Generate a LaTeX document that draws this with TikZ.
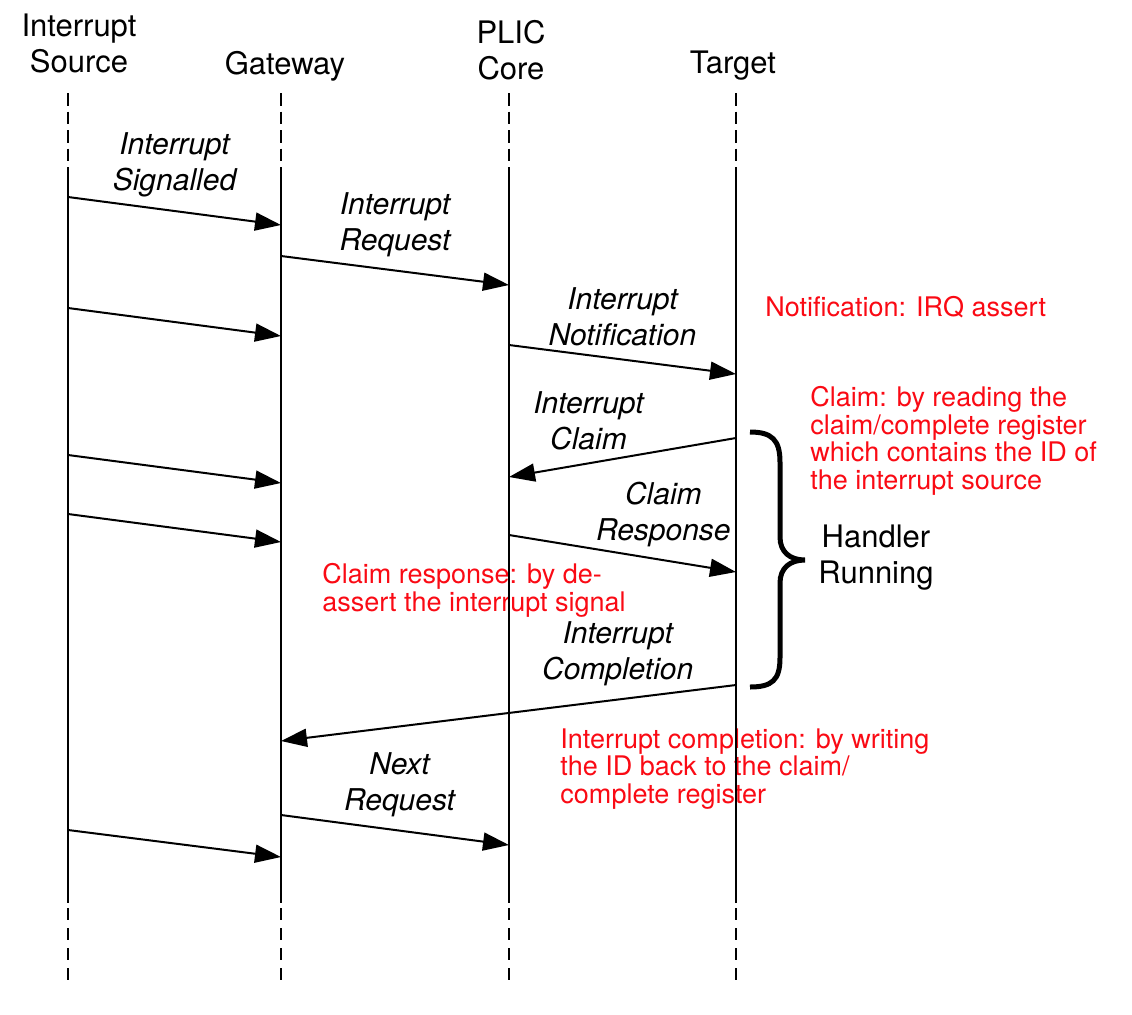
\documentclass[tikz,border=0pt]{standalone}
\usepackage{fontspec}
\setmainfont{TeX Gyre Heros}
\usepackage{tikz}
\tikzset{font=\fontsize{15.5}{18}\selectfont}
\usetikzlibrary{positioning,arrows.meta}
\definecolor{notered}{RGB}{250,10,20}

\begin{document}
\begin{tikzpicture}[x=0.5pt, y=-0.5pt, >={Triangle[length=13pt,width=9pt]}]
		\tikzstyle{head} = [align=center];
		\tikzstyle{lbl} = [above=3pt, align=center, font=\fontsize{15}{18}\selectfont\itshape];
		\tikzstyle{note} = [anchor=north west, align=left, inner sep=0pt, text=notered, font=\fontsize{13.5}{13.75}\selectfont];
		\tikzstyle{life} = [draw=black, line width=0.75pt];
		
		\useasboundingbox (0,0) rectangle (1132,1014);
		
		\node[head](source) at (79,43){Interrupt \\ Source};
		\node[head](gateway) at (285,66){Gateway};
		\node[head](plic) at (511,50){PLIC \\ Core};
		\node[head](target) at (733,66){Target};
		
		\node[note](notification note) at (765,296){Notification: IRQ assert};
		\node[note](claim note) at (810,386){Claim: by reading the \\ claim/complete register \\ which contains the ID of \\ the interrupt source};
		\node[note](response note) at (322,563){Claim response: by de- \\ assert the interrupt signal};
		\node[note](completion note) at (560,728){Interrupt completion: by writing \\ the ID back to the claim/ \\ complete register};
		\node[head](handler) at (876,558){Handler \\ Running};
		
		\foreach \n/\x in {src/68, gw/281, plic/509, tgt/736}{
			\coordinate (\n top) at (\x,93);
			\coordinate (\n dashoff) at (\x,161);
			\coordinate (\n on) at (\x,167);
			\coordinate (\n off) at (\x,903);
			\coordinate (\n dashon) at (\x,908);
			\coordinate (\n end) at (\x,984);
			\draw[life, dash pattern=on 6.25pt off 3pt] (\n top) -- (\n dashoff);
			\draw[life] (\n on) -- (\n off);
			\draw[life, dash pattern=on 6pt off 4pt] (\n dashon) -- (\n end);
		}
		
		\coordinate (signalled from) at (68,197);
		\coordinate (signalled to) at (281,225);
		\coordinate (request from) at (281,256);
		\coordinate (request to) at (509,285);
		\coordinate (signal2 from) at (68,308);
		\coordinate (signal2 to) at (281,336);
		\coordinate (notification from) at (509,345);
		\coordinate (notification to) at (736,374);
		\coordinate (claim from) at (736,438);
		\coordinate (claim to) at (509,477);
		\coordinate (signal3 from) at (68,455);
		\coordinate (signal3 to) at (281,483);
		\coordinate (signal4 from) at (68,514);
		\coordinate (signal4 to) at (281,542);
		\coordinate (response from) at (509,535);
		\coordinate (response to) at (736,572);
		\coordinate (completion from) at (736,685);
		\coordinate (completion to) at (281,741);
		\coordinate (next from) at (281,815);
		\coordinate (next to) at (509,845);
		\coordinate (signal5 from) at (68,830);
		\coordinate (signal5 to) at (281,857);
		
		\path[line width=1pt, ->] (signalled from) edge node[lbl]{Interrupt \\ Signalled} (signalled to)
		(request from) edge node[lbl]{Interrupt \\ Request} (request to)
		(signal2 from) edge (signal2 to)
		(notification from) edge node[lbl]{Interrupt \\ Notification} (notification to)
		(claim from) edge node[lbl, pos=0.65]{Interrupt \\ Claim} (claim to)
		(signal3 from) edge (signal3 to)
		(signal4 from) edge (signal4 to)
		(response from) edge node[lbl, pos=0.68]{Claim \\ Response} (response to)
		(completion from) edge node[lbl, pos=0.26]{Interrupt \\ Completion} (completion to)
		(next from) edge node[lbl, pos=0.52]{Next \\ Request} (next to)
		(signal5 from) edge (signal5 to);
		
		% handler brace
		\draw[line width=2.5pt] (750,432) .. controls (772,432) and (780,440) .. (780,462) -- (780,537)
		.. controls (780,552) and (790,560) .. (805,560)
		.. controls (790,560) and (780,568) .. (780,583) -- (780,658)
		.. controls (780,680) and (772,687) .. (750,687);
\end{tikzpicture}
\end{document}
